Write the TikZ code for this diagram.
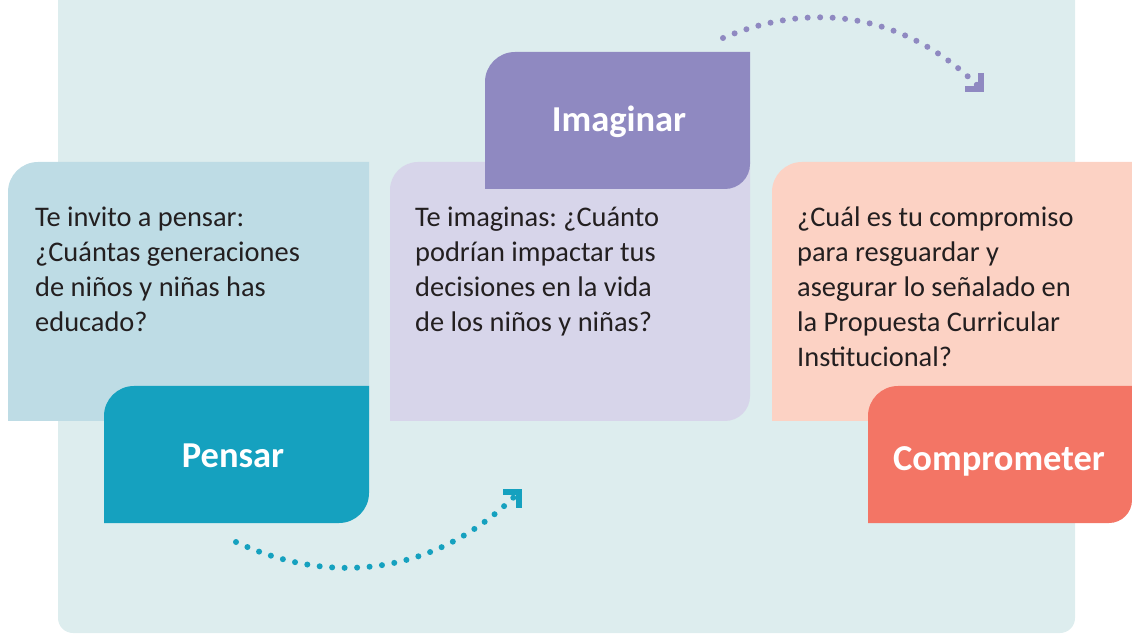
\documentclass[tikz,border=0pt]{standalone}
\usepackage{fontspec}
\setmainfont{Carlito}
\usetikzlibrary{arrows.meta}
\frenchspacing
\definecolor{panelbg}{HTML}{DDEDEE}
\definecolor{pensarlt}{HTML}{BEDCE5}
\definecolor{pensardk}{HTML}{15A1BF}
\definecolor{imaglt}{HTML}{D7D5EA}
\definecolor{imagdk}{HTML}{8F89C1}
\definecolor{comprlt}{HTML}{FCD2C4}
\definecolor{comprdk}{HTML}{F37565}
\definecolor{ink}{HTML}{231F20}
\tikzset{
question/.style = {anchor=base west, align=left, inner sep=0pt, text=ink, font=\fontsize{28.4}{35}\selectfont},
tag/.style      = {anchor=base, inner sep=0pt, text=white, font=\bfseries\fontsize{36.5}{40}\selectfont},
dots/.style     = {line width=6pt, line cap=round, dash pattern=on 0pt off 12.5pt},
barb/.style     = {-{Straight Barb[angle=90:16pt]}}
}

\begin{document}
\begin{tikzpicture}[x=1pt, y=1pt]
  \useasboundingbox (0,0) rectangle (1132,635);

  % panel
  \fill[panelbg] (58,635) -- (58,17) arc[start angle=180, end angle=270, radius=15]
    -- (1060,2) arc[start angle=270, end angle=360, radius=15] -- (1075,635) -- cycle;

  % pensar
  \fill[pensarlt] (8,214) -- (8,443) arc[start angle=180, end angle=90, radius=30]
    -- (369,473) -- (369,214) -- cycle;
  \fill[pensardk] (104,112) -- (104,219) arc[start angle=180, end angle=90, radius=30]
    -- (369,249) -- (369,142) arc[start angle=0, end angle=-90, radius=30] -- cycle;

  % imaginar
  \fill[imaglt] (390,214) -- (390,445) arc[start angle=180, end angle=90, radius=28]
    -- (750,473) -- (750,239) arc[start angle=0, end angle=-90, radius=25] -- cycle;
  \fill[imagdk] (485,446) -- (485,553) arc[start angle=180, end angle=90, radius=30]
    -- (750,583) -- (750,471) arc[start angle=0, end angle=-90, radius=25] -- cycle;

  % comprometer
  \fill[comprlt] (772,214) -- (772,443) arc[start angle=180, end angle=90, radius=30]
    -- (1132,473) -- (1132,214) -- cycle;
  \fill[comprdk] (868,112) -- (868,219) arc[start angle=180, end angle=90, radius=30]
    -- (1132,249) -- (1132,135) arc[start angle=0, end angle=-90, radius=23] -- cycle;

  % base = last line, so 4 or 5 lines below the first baseline
  \node[question] (qpensar) at (35,303)  {Te invito a pensar:\\¿Cuántas generaciones\\de niños y niñas has\\educado?};
  \node[question] (qimag)   at (415,303) {Te imaginas: ¿Cuánto\\podrían impactar tus\\decisiones en la vida\\de los niños y niñas?};
  \node[question] (qcompr)  at (797,268) {¿Cuál es tu compromiso\\para resguardar y\\asegurar lo señalado en\\la Propuesta Curricular\\Institucional?};

  \node[tag] (pensar)  at (233,168)  {Pensar};
  \node[tag] (imag)    at (619,503)  {Imaginar};
  \node[tag] (compr)   at (999,165)  {Comprometer};

  \coordinate (pstart) at (236,93);
  \coordinate (pend)   at (522,146);
  \coordinate (istart) at (723,597);
  \coordinate (iend)   at (984,543);

  \draw[dots, pensardk, barb] (pstart) to[out=-25, in=225] (pend);
  \draw[dots, imagdk, barb]   (istart) to[out=23, in=135] (iend);
\end{tikzpicture}
\end{document}
